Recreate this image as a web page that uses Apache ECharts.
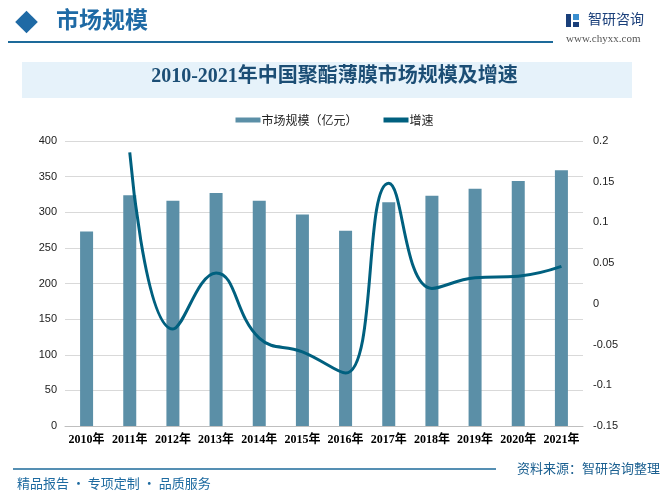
<!DOCTYPE html>
<html>
<head>
<meta charset="utf-8">
<script src="https://cdn.jsdelivr.net/npm/echarts@6/dist/echarts.min.js"></script>
<style>
  html, body { margin: 0; padding: 0; background: #fff; }
  #chart { width: 669px; height: 496px; }
</style>
</head>
<body>
<div id="chart"></div>
<script>
var years = ['2010年', '2011年', '2012年', '2013年', '2014年', '2015年', '2016年', '2017年', '2018年', '2019年', '2020年', '2021年'];
var marketSize = [273, 324, 316, 327, 316, 297, 274, 314, 323, 333, 344, 359];
var growth = [null, 0.186, -0.031, 0.038, -0.042, -0.059, -0.085, 0.148, 0.019, 0.032, 0.034, 0.046];
var leftTicks = [0, 400, 50];
var rightTicks = [-0.15, 0.2, 0.05];

var myChart = echarts.init(document.getElementById('chart'));
var cjk = '"Noto Sans CJK SC", sans-serif';

var option = {
  backgroundColor: '#fff',
  color: ['#5b8fa7', '#00607f'],
  graphic: [
    // header
    { type: 'rect', shape: { x: 18.5, y: 14, width: 16, height: 16 }, rotation: Math.PI / 4, originX: 26.5, originY: 22,
      style: { fill: '#1f6aa5' } },
    { type: 'text', left: 56, top: 8, style: { text: '市场规模', font: 'bold 23px ' + cjk, fill: '#1f6aa5' } },
    { type: 'line', shape: { x1: 8, y1: 42, x2: 553, y2: 42 }, style: { stroke: '#1d6a9a', lineWidth: 2 } },
    { type: 'rect', shape: { x: 566, y: 14, width: 5, height: 13 }, style: { fill: '#1a3f7a' } },
    { type: 'rect', shape: { x: 573, y: 14, width: 6, height: 6 }, style: { fill: '#3a8fd0' } },
    { type: 'rect', shape: { x: 573, y: 22, width: 6, height: 5 }, style: { fill: '#1a3f7a' } },
    { type: 'text', left: 588, top: 12, style: { text: '智研咨询', font: '14px ' + cjk, fill: '#1a3f7a' } },
    { type: 'text', left: 566, top: 34, style: { text: 'www.chyxx.com', font: '11px "Liberation Serif", serif', fill: '#555' } },
    // title box
    { type: 'rect', shape: { x: 22, y: 62, width: 610, height: 36 }, style: { fill: '#e6f2fa' } },
    { type: 'text', left: 'center', top: 67, style: { text: '2010-2021年中国聚酯薄膜市场规模及增速', font: 'bold 20px "Liberation Serif", ' + cjk, fill: '#1c4e75' } },
    // footer
    { type: 'line', shape: { x1: 13, y1: 469, x2: 496, y2: 469 }, style: { stroke: '#1d6a9a', lineWidth: 1.5 } },
    { type: 'text', left: 517, top: 462, style: { text: '资料来源：智研咨询整理', font: '13px ' + cjk, fill: '#1a5f90' } },
    { type: 'text', left: 17, top: 477, style: { text: '精品报告 · 专项定制 · 品质服务', font: '13px ' + cjk, fill: '#1d6aa0' } }
  ],
  legend: {
    top: 109,
    left: 'center',
    itemWidth: 25,
    itemHeight: 5,
    itemGap: 26,
    icon: 'rect',
    textStyle: { fontSize: 12, color: '#222', fontFamily: cjk, padding: [0, 0, 0, -4] },
    data: ['市场规模（亿元）', '增速']
  },
  grid: { left: 65, right: 86, top: 141, bottom: 70 },
  xAxis: {
    type: 'category',
    data: years,
    axisTick: { show: false },
    axisLine: { lineStyle: { color: '#bfbfbf' } },
    axisLabel: { interval: 0, color: '#000', fontWeight: 'bold', fontSize: 12, margin: 8,
      fontFamily: '"Liberation Serif", "Noto Sans CJK SC", serif' }
  },
  yAxis: [
    {
      type: 'value', min: leftTicks[0], max: leftTicks[1], interval: leftTicks[2],
      axisLine: { show: false }, axisTick: { show: false },
      axisLabel: { color: '#222', fontSize: 11, margin: 8 },
      splitLine: { lineStyle: { color: '#d9d9d9' } }
    },
    {
      type: 'value', min: rightTicks[0], max: rightTicks[1], interval: rightTicks[2],
      axisLine: { show: false }, axisTick: { show: false },
      axisLabel: { color: '#222', fontSize: 11, margin: 10,
        formatter: function (v) { return String(Math.round(v * 100) / 100); } },
      splitLine: { show: false }
    }
  ],
  series: [
    {
      name: '市场规模（亿元）',
      type: 'bar',
      barWidth: 13,
      data: marketSize,
      itemStyle: { color: '#5b8fa7' }
    },
    {
      name: '增速',
      type: 'line',
      yAxisIndex: 1,
      smooth: 0.45,
      symbol: 'none',
      data: growth,
      lineStyle: { width: 3, color: '#00607f' },
      itemStyle: { color: '#00607f' }
    }
  ]
};

myChart.setOption(option);
</script>
</body>
</html>
